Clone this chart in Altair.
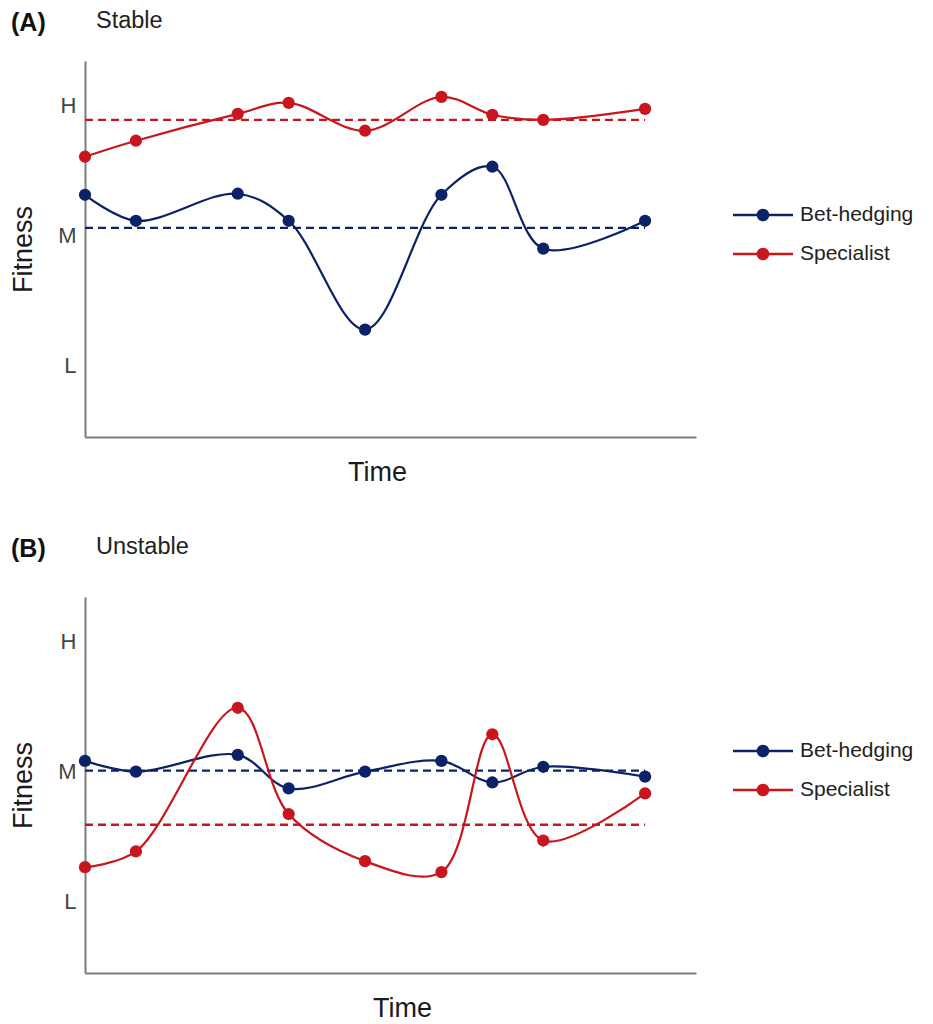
import altair as alt
import pandas as pd

FONT = "Liberation Sans, Arial, Helvetica, sans-serif"

series_names = ["Bet-hedging", "Specialist"]
series_colors = ["#0c2267", "#c9161e"]

time_points = [0, 1, 3, 4, 5.5, 7, 8, 9, 11]
level_values = [1, 2, 3]
level_labels = ["L", "M", "H"]

# Panel A (Stable)
stable_bet = [2.315, 2.115, 2.323, 2.115, 1.277, 2.315, 2.531, 1.90, 2.115]
stable_spec = [2.608, 2.731, 2.938, 3.023, 2.808, 3.069, 2.931, 2.892, 2.977]
stable_means = [2.06, 2.892]

# Panel B (Unstable)
unstable_bet = [2.083, 2.0, 2.129, 1.871, 2.0, 2.083, 1.917, 2.038, 1.962]
unstable_spec = [1.265, 1.386, 2.492, 1.674, 1.311, 1.227, 2.288, 1.47, 1.833]
unstable_means = [2.008, 1.591]

panel_letters = ["(A)", "(B)"]
panel_names = ["Stable", "Unstable"]

LEGEND_PATH = ("M-1,-0.045H1V0.045H-1Z "
               "M-0.21,0A0.21,0.21 0 1,1 0.21,0A0.21,0.21 0 1,1 -0.21,0Z")

label_expr = " : ".join(
    f"datum.value == {v} ? '{l}'" for v, l in zip(level_values[1:], level_labels[1:])
) + f" : '{level_labels[0]}'"

W, H = 611, 376


def panel(letter, name, bet, spec, means, time_title_x, head_y):
    rows = []
    for s, vals in zip(series_names, [bet, spec]):
        for t, v in zip(time_points, vals):
            rows.append({"t": t, "v": v, "series": s})
    df = pd.DataFrame(rows)
    mdf = pd.DataFrame({
        "series": series_names,
        "v": means,
        "t": [time_points[0]] * 2,
        "t_end": [time_points[-1]] * 2,
    })

    xenc = alt.X("t:Q", title="Time",
                 scale=alt.Scale(domain=[0, 12], nice=False, zero=False),
                 axis=alt.Axis(labels=False, ticks=False, grid=False,
                               titlePadding=22, titleX=time_title_x))
    yenc = alt.Y("v:Q", title="Fitness",
                 scale=alt.Scale(domain=[0.45, 3.345], nice=False, zero=False),
                 axis=alt.Axis(values=level_values, labelExpr=label_expr,
                               ticks=False, grid=False, labelPadding=9,
                               titlePadding=20))
    cscale = alt.Scale(domain=series_names, range=series_colors)
    legend = alt.Legend(orient="none", legendX=648, legendY=144,
                        title=None, symbolType=LEGEND_PATH,
                        symbolSize=3600, symbolStrokeWidth=0,
                        symbolOpacity=1, symbolFillColor="#000",
                        labelFontSize=21,
                        labelFont=FONT, labelColor="#222",
                        labelOffset=7, clipHeight=20,
                        rowPadding=18, padding=0)

    rules = alt.Chart(mdf).mark_rule(strokeDash=[8, 5], strokeWidth=2.4).encode(
        x=xenc, x2="t_end:Q", y=yenc,
        color=alt.Color("series:N", scale=cscale, legend=legend))
    lines = alt.Chart(df).mark_line(interpolate="catmull-rom", strokeWidth=2.2).encode(
        x=xenc, y=yenc,
        color=alt.Color("series:N", scale=cscale, legend=legend))
    pts = alt.Chart(df).mark_point(filled=True, size=150, opacity=1).encode(
        x=xenc, y=yenc,
        color=alt.Color("series:N", scale=cscale, legend=legend))
    head_df = pd.DataFrame({"txt": [letter]})
    head_letter = alt.Chart(head_df).mark_text(
        align="left", baseline="middle", fontSize=25, fontWeight="bold",
        font=FONT, color="#111"
    ).encode(text="txt:N", x=alt.value(-74), y=alt.value(head_y + 2))
    sub = alt.Chart(pd.DataFrame({"txt": [name]})).mark_text(
        align="left", baseline="middle", fontSize=23.5, font=FONT, color="#222"
    ).encode(text="txt:N", x=alt.value(11), y=alt.value(head_y))

    return alt.layer(rules, lines, pts, head_letter, sub).properties(
        width=W, height=H,
    )


pa = panel(panel_letters[0], panel_names[0], stable_bet, stable_spec, stable_means, 292, -40)
pb = panel(panel_letters[1], panel_names[1], unstable_bet, unstable_spec, unstable_means, 317, -50)

chart = alt.vconcat(pa, pb, spacing=50).resolve_scale(color="independent").resolve_legend(
    color="independent"
).properties(
    padding={"left": 1, "top": 1, "right": 0, "bottom": 0}
).configure_view(stroke=None).configure_axis(
    domainColor="#7d7d7d", domainWidth=2, labelFont=FONT, titleFont=FONT,
    labelFontSize=22, labelColor="#444", titleFontSize=27,
    titleFontWeight="normal", titleColor="#1a1a1a",
)

chart.save("out.html", embed_options={"renderer": "svg", "actions": False})
